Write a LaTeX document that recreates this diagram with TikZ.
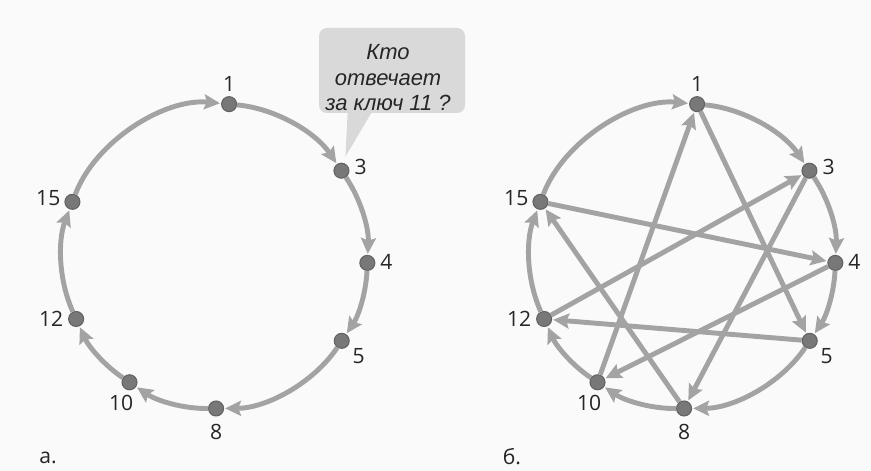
\documentclass[tikz,border=0pt]{standalone}
\usepackage{fontspec}
\setmainfont{Open Sans}
\newfontfamily\bubblefont{Liberation Sans}
\usetikzlibrary{arrows.meta,calc,positioning}
\definecolor{paper}{HTML}{FAFAFA}
\definecolor{ringgray}{HTML}{A3A3A3}
\definecolor{dotgray}{HTML}{787878}
\definecolor{dotrim}{HTML}{626262}
\definecolor{bubblegray}{HTML}{D9D9D9}

\tikzset{
  peer/.style={circle,fill=dotgray,draw=dotrim,line width=0.6pt,inner sep=0pt,minimum size=0.30cm},
  tag/.style={font=\fontsize{12}{14}\selectfont,text=black!85,anchor=center,inner sep=0pt},
  link/.style={draw=ringgray,line width=2.8pt,looseness=0.85,
    -{Stealth[length=9pt,width=8.5pt,inset=1.5pt]},shorten >=0.6pt},
  bubble/.style={fill=bubblegray,rounded corners=0.16cm,minimum width=2.92cm,minimum height=1.70cm},
  asktext/.style={font=\bubblefont\itshape\fontsize{12.5}{14.5}\selectfont,align=center,text=black!85}
}

\begin{document}
\begin{tikzpicture}
  \fill[paper] (0,0) rectangle (17.42,9.42);
  \useasboundingbox (0,0) rectangle (17.42,9.42);
  % peers on both rings
  \foreach \p/\cx in {a/4.30,b/13.66}
    \foreach \k/\ang/\la/\ld in {1/84.7/90/0.24,3/34.0/12/0.23,4/-2.6/3/0.22,5/-33.8/-43/0.30,
        8/-89.6/-90/0.30,10/-124.1/-112/0.29,12/-155.6/180/0.34,15/159.2/170/0.33}
      \node[peer,label={[tag,label distance=\ld cm]\la:\k}] (\p\k) at ($(\cx,4.30)+(\ang:3.05)$) {};
  % successor arcs
  \foreach \p in {a,b}
    \foreach \s/\t/\b in {1/3/25.4,3/4/18.3,4/5/15.6,5/8/27.9,8/10/17.3,10/12/15.8,12/15/22.6,15/1/37.3}
      \draw[link] (\p\s) to[bend left=\b] (\p\t);
  % finger chords
  \foreach \s/\t in {10/1,1/5,3/8,12/3,15/4,4/10,5/12,8/15}
    \draw[link] (b\s) -- (b\t);
  % question bubble over peer 3
  \node[bubble] (ask) at (7.84,8.01) {};
  \fill[bubblegray] ($(ask.south west)+(0.58,0.02)$) -- ($(ask.south west)+(1.06,0.02)$)
    -- ($(a3)+(0.08,0.28)$) -- cycle;
  \node[asktext] (askq) at (7.76,7.86) {Кто\\отвечает\\за ключ 11 ?};
  \node[tag] (capa) at (0.96,0.26) {а.};
  \node[tag] (capb) at (10.24,0.28) {б.};
\end{tikzpicture}
\end{document}
